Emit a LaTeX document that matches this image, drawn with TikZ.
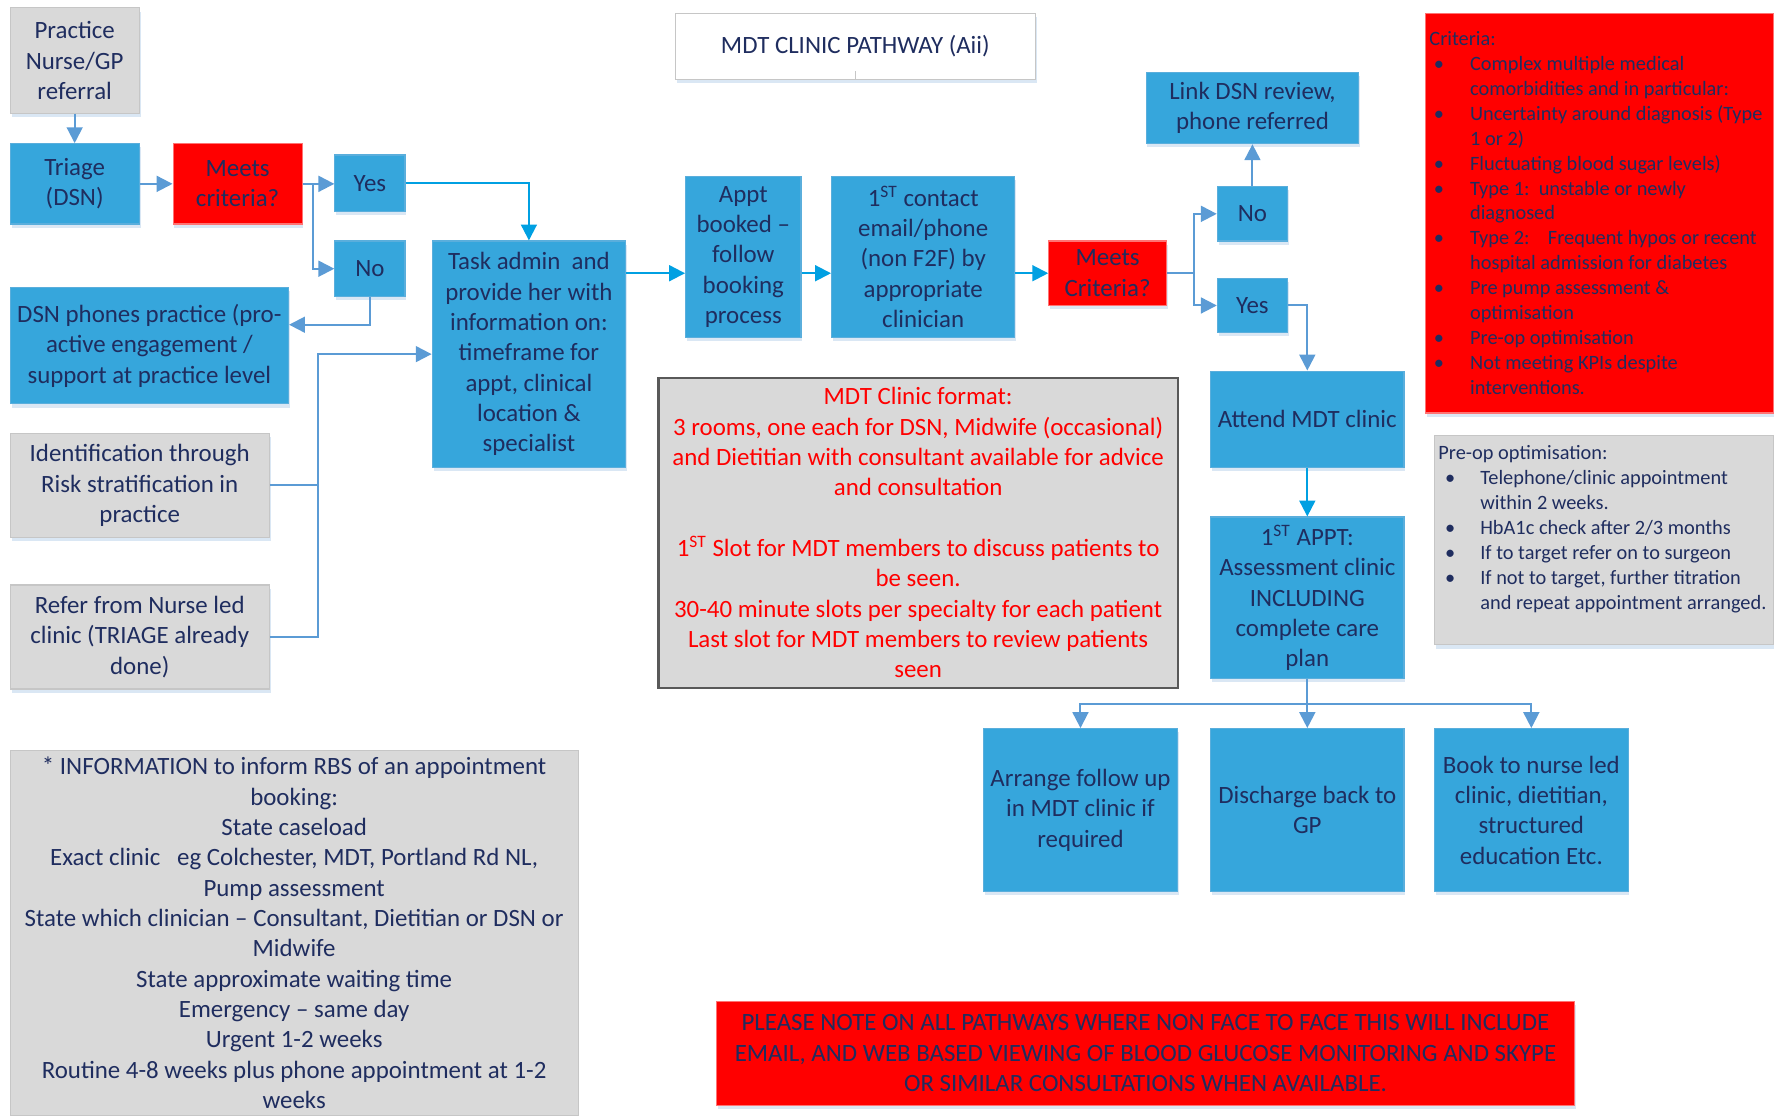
\documentclass[tikz,border=0pt]{standalone}
\usepackage{fontspec}
\setmainfont{Carlito}
\usetikzlibrary{arrows.meta,shadows,calc}

\definecolor{boxblue}{HTML}{36A6DC}
\definecolor{boxedge}{HTML}{5AAEDC}
\definecolor{boxgrey}{HTML}{D9D9D9}
\definecolor{greyedge}{HTML}{C6C6C6}
\definecolor{alertred}{HTML}{FF0000}
\definecolor{navy}{HTML}{1F2D5F}
\definecolor{linkblue}{HTML}{5B9BD5}
\definecolor{linkcyan}{HTML}{00A0E2}
\definecolor{shadeblue}{HTML}{DAE7F4}
\definecolor{darkframe}{HTML}{595959}

\newcommand\bodyfont{\fontsize{11}{13.4}\selectfont}
\newcommand\smallfont{\fontsize{9}{11.03}\selectfont}

% box from corner (x1,y1) to corner (x2,y2), in layout units
\newcommand\mkbox[7]{%
  \pgfmathsetmacro\bw{(#5-#3)*0.5}%
  \pgfmathsetmacro\bh{(#6-#4)*0.5}%
  \node[#1, minimum width=\bw pt, minimum height=\bh pt] (#2)
    at ({(#3+#5)/2},{(#4+#6)/2}) {#7};}

\tikzset{
  fbase/.style={align=center, text=navy, font=\bodyfont, inner sep=0pt,
    line width=0.5pt,
    drop shadow={shadow xshift=0.6pt, shadow yshift=-1.6pt, fill=shadeblue, opacity=1}},
  bluebox/.style={fbase, fill=boxblue, draw=boxedge},
  greybox/.style={fbase, fill=boxgrey, draw=greyedge},
  redbox/.style={fbase, fill=alertred, draw=alertred!55!white},
  titlebox/.style={fbase, fill=white, draw=greyedge},
  fmtbox/.style={align=center, text=alertred, font=\bodyfont, inner sep=0pt,
    fill=boxgrey, draw=darkframe, line width=1pt},
  link/.style={draw=linkblue, line width=0.9pt},
  arr/.style={link, -{Triangle[length=7pt,width=7pt]}},
  carr/.style={draw=linkcyan, line width=0.9pt, -{Triangle[length=7pt,width=7pt]}},
}

\begin{document}
\begin{tikzpicture}[x=0.5pt,y=-0.5pt]
\useasboundingbox (0,0) rectangle (1568,986);

% ---- title ----
\mkbox{titlebox}{title}{597}{12}{915}{70}{MDT CLINIC PATHWAY (Aii)}
\draw[greyedge, line width=0.4pt] (title.south) -- ++(0,-8);

% ---- left column ----
\mkbox{greybox}{prac}{9}{7}{123}{100}{Practice\\Nurse/GP\\referral}
\mkbox{bluebox}{tri}{9}{127}{123}{198}{Triage\\(DSN)}
\mkbox{redbox}{meet1}{153}{127}{267}{198}{Meets\\criteria?}
\mkbox{bluebox}{yes1}{296}{137}{358}{187}{Yes}
\mkbox{bluebox}{no1}{296}{213}{358}{262}{No}
\mkbox{bluebox}{dsn}{9}{254}{255}{357}{DSN phones practice (pro-\\active engagement /\\support at practice level}
\mkbox{greybox}{ident}{9}{383}{238}{475}{Identification through\\Risk stratification in\\practice}
\mkbox{greybox}{refer}{9}{517}{238}{609}{Refer from Nurse led\\clinic (TRIAGE already\\done)}
\mkbox{bluebox}{task}{382}{213}{553}{413}{Task admin\ \ and\\provide her with\\information on:\\timeframe for\\appt, clinical\\location \&\\specialist}

% ---- middle row ----
\mkbox{bluebox}{appt}{606}{156}{708}{298}{Appt\\booked –\\follow\\booking\\process}
\mkbox{bluebox}{first}{735}{156}{897}{298}{1\textsuperscript{ST} contact\\email/phone\\(non F2F) by\\appropriate\\clinician}
\mkbox{redbox}{meet2}{927}{213}{1031}{270}{Meets\\Criteria?}
\mkbox{bluebox}{no2}{1076}{165}{1138}{213}{No}
\mkbox{bluebox}{yes2}{1076}{246}{1138}{294}{Yes}
\mkbox{bluebox}{link}{1013}{64}{1201}{127}{Link DSN review,\\phone referred}
\mkbox{bluebox}{attend}{1070}{328}{1241}{413}{Attend MDT clinic}
\mkbox{bluebox}{appt1}{1070}{457}{1241}{600}{1\textsuperscript{ST} APPT:\\Assessment clinic\\INCLUDING\\complete care\\plan}

\mkbox{fmtbox}{fmt}{582}{334}{1041}{608}{MDT Clinic format:\\3 rooms, one each for DSN, Midwife (occasional)\\and Dietitian with consultant available for advice\\and consultation\\[13.4pt]1\textsuperscript{ST} Slot for MDT members to discuss patients to\\be seen.\\30-40 minute slots per specialty for each patient\\Last slot for MDT members to review patients\\seen}

% ---- outcomes ----
\mkbox{bluebox}{arrange}{869}{644}{1041}{788}{Arrange follow up\\in MDT clinic if\\required}
\mkbox{bluebox}{discharge}{1070}{644}{1241}{788}{Discharge back to\\GP}
\mkbox{bluebox}{book}{1268}{644}{1439}{788}{Book to nurse led\\clinic, dietitian,\\structured\\education Etc.}

% ---- criteria panel ----
\mkbox{redbox}{crit}{1260}{12}{1568}{365}{}
\node[anchor=west, text=navy, font=\smallfont, inner sep=0pt, align=left] (crittext) at (1263,190) {%
\begin{tabular}{@{}p{18pt}@{}l@{}}
\multicolumn{2}{@{}l@{}}{Criteria:}\\
\hspace{2pt}• & Complex multiple medical\\
 & comorbidities and in particular:\\
\hspace{2pt}• & Uncertainty around diagnosis (Type\\
 & 1 or 2)\\
\hspace{2pt}• & Fluctuating blood sugar levels)\\
\hspace{2pt}• & Type 1:\ \ unstable or newly\\
 & diagnosed\\
\hspace{2pt}• & Type 2:\ \ \ \ Frequent hypos or recent\\
 & hospital admission for diabetes\\
\hspace{2pt}• & Pre pump assessment \&\\
 & optimisation\\
\hspace{2pt}• & Pre-op optimisation\\
\hspace{2pt}• & Not meeting KPIs despite\\
 & interventions.
\end{tabular}};

% ---- pre-op panel ----
\mkbox{greybox}{preop}{1268}{385}{1568}{570}{}
\node[anchor=west, text=navy, font=\smallfont, inner sep=0pt, align=left] (preoptext) at (1271,468) {%
\begin{tabular}{@{}p{18.5pt}@{}l@{}}
\multicolumn{2}{@{}l@{}}{Pre-op optimisation:}\\
\hspace{3pt}• & Telephone/clinic appointment\\
 & within 2 weeks.\\
\hspace{3pt}• & HbA1c check after 2/3 months\\
\hspace{3pt}• & If to target refer on to surgeon\\
\hspace{3pt}• & If not to target, further titration\\
 & and repeat appointment arranged.
\end{tabular}};

% ---- booking information ----
\mkbox{greybox}{info}{9}{663}{511}{986}{* INFORMATION to inform RBS of an appointment\\booking:\\State caseload\\Exact clinic\ \ \ eg Colchester, MDT, Portland Rd NL,\\Pump assessment\\State which clinician – Consultant, Dietitian or DSN or\\Midwife\\State approximate waiting time\\Emergency – same day\\Urgent 1-2 weeks\\Routine 4-8 weeks plus phone appointment at 1-2\\weeks}

% ---- note ----
\mkbox{redbox}{note}{633}{885}{1392}{977}{PLEASE NOTE ON ALL PATHWAYS WHERE NON FACE TO FACE THIS WILL INCLUDE\\EMAIL, AND WEB BASED VIEWING OF BLOOD GLUCOSE MONITORING AND SKYPE\\OR SIMILAR CONSULTATIONS WHEN AVAILABLE.}

% ---- connectors ----
\draw[arr] (prac.south) -- (tri.north);
\draw[arr] (tri.east) -- (meet1.west);
\coordinate (j1) at (277,162.5);
\draw[arr] (meet1.east) -- (meet1.east -| yes1.west);
\draw[arr] (j1) |- (no1.west);
\draw[carr] (yes1.east) -| (task.north);
\draw[arr] (no1.south) |- ($(dsn.east)+(0,-18.5)$);
\coordinate (bus) at (281,313);
\draw[link] (ident.east) -- (ident.east -| bus);
\draw[arr] (refer.east) -| (bus) -- (bus -| task.west);

\draw[carr] (task.east |- meet2.west) -- (appt.west |- meet2.west);
\draw[carr] (appt.east |- meet2.west) -- (first.west |- meet2.west);
\draw[carr] (first.east |- meet2.west) -- (meet2.west);
\coordinate (j2) at (1055,241.5);
\draw[link] (meet2.east) -- (j2);
\draw[arr] (j2) |- (no2.west);
\draw[arr] (j2) |- (yes2.west);
\draw[arr] (no2.north) -- (link.south);
\draw[arr] (yes2.east) -| (attend.north);
\draw[carr] (attend.south) -- (appt1.north);

\coordinate (j3) at (1155.5,622);
\draw[link] (appt1.south) -- (j3);
\draw[arr] (j3) -| (arrange.north);
\draw[arr] (j3) -- (discharge.north);
\draw[arr] (j3) -| (book.north);
\end{tikzpicture}
\end{document}
